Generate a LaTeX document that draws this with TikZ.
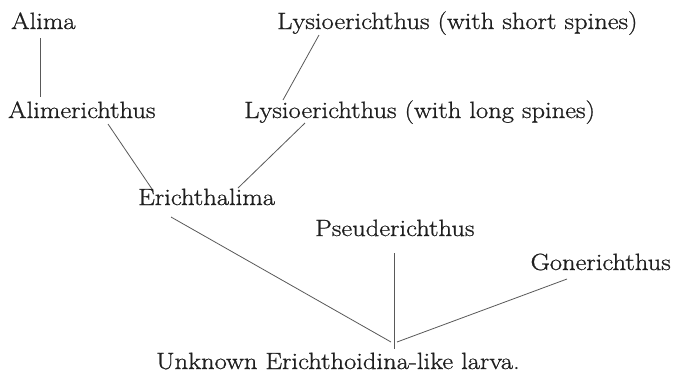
\documentclass[tikz,border=0pt]{standalone}
\usepackage{fontspec}
\setmainfont{Latin Modern Roman}[FakeStretch=1.13,FakeBold=0.9]
\begin{document}
\begin{tikzpicture}[x=1pt,y=-1pt,
  lbl/.style={anchor=base west,inner sep=0pt,text=black!88,font=\fontsize{23.5}{28}\selectfont},
  edge/.style={draw=black!65,line width=0.8pt}]
\useasboundingbox[fill=white] (0,0) rectangle (674,373);
\node[lbl] (alima) at (11,29) {Alima};
\node[lbl] (alimer) at (8,118) {Alimerichthus};
\node[lbl] (lshort) at (277,29) {Lysioerichthus (with short spines)};
\node[lbl] (llong) at (244,118) {Lysioerichthus (with long spines)};
\node[lbl] (erich) at (138,205) {Erichthalima};
\node[lbl] (pseud) at (315,236) {Pseuderichthus};
\node[lbl,anchor=base east] (goner) at (671,270) {Gonerichthus};
\node[lbl] (larva) at (156,369) {Unknown Erichthoidina-like larva.};
% connector ends
\coordinate (a1) at (40,38);   \coordinate (a2) at (40,97);
\coordinate (s1) at (319,35);  \coordinate (s2) at (283,100);
\coordinate (m1) at (108,124); \coordinate (m2) at (152,189);
\coordinate (l1) at (305,123); \coordinate (l2) at (238,188);
\coordinate (e1) at (171,217); \coordinate (e2) at (391,342);
\coordinate (p1) at (394,253); \coordinate (p2) at (394,349);
\coordinate (g1) at (567,279); \coordinate (g2) at (397,342);
\draw[edge] (a1) -- (a2);
\draw[edge] (s1) -- (s2);
\draw[edge] (m1) -- (m2);
\draw[edge] (l1) -- (l2);
\draw[edge] (e1) -- (e2);
\draw[edge] (p1) -- (p2);
\draw[edge] (g1) -- (g2);
\end{tikzpicture}
\end{document}
